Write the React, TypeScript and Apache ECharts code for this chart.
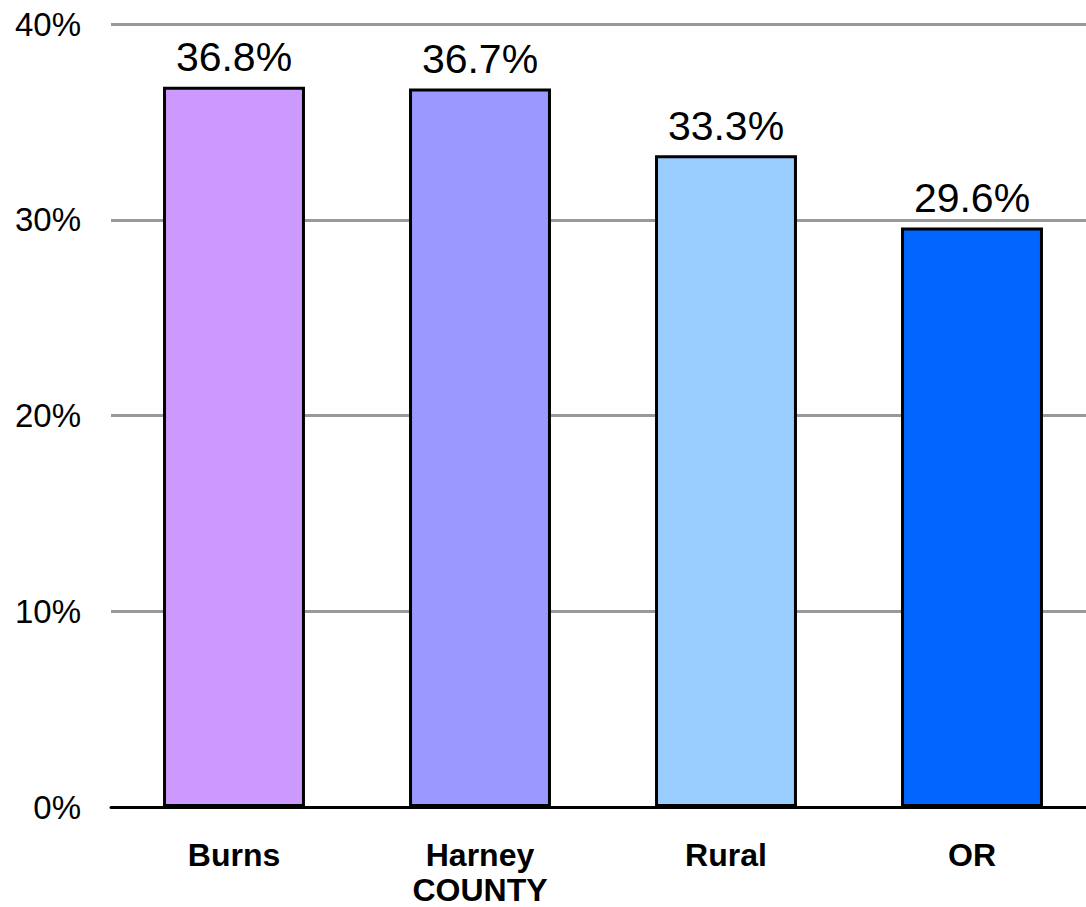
import React, { useEffect, useRef } from "react";
import * as echarts from "echarts";

const categories = ["Burns", "Harney\nCOUNTY", "Rural", "OR"];
const values = [36.8, 36.7, 33.3, 29.6];
const barColors = ["#CC99FF", "#9999FF", "#99CCFF", "#0066FF"];
const yTicks = [0, 10, 20, 30, 40];

export default function App() {
  const ref = useRef<HTMLDivElement>(null);
  useEffect(() => {
    if (!ref.current) return;
    const chart = echarts.init(ref.current, null, { renderer: "svg" });
    const font = "Arial, 'Liberation Sans', sans-serif";
    chart.setOption({
      animation: false,
      backgroundColor: "#ffffff",
      grid: { left: 111, right: 0, top: 24, bottom: 97, containLabel: false },
      xAxis: {
        type: "category",
        data: categories,
        axisLine: { show: true, lineStyle: { color: "#000", width: 3 } },
        axisTick: { show: false },
        axisLabel: {
          color: "#000",
          fontFamily: font,
          fontWeight: "bold",
          fontSize: 32,
          lineHeight: 35,
          margin: 30,
          interval: 0,
        },
      },
      yAxis: {
        type: "value",
        min: yTicks[0],
        max: yTicks[yTicks.length - 1],
        interval: 10,
        axisLine: { show: false },
        axisTick: { show: false },
        splitLine: { show: true, lineStyle: { color: "#999999", width: 3 } },
        axisLabel: {
          color: "#000",
          fontFamily: font,
          fontSize: 33,
          margin: 30,
          formatter: (v: number) => `${v}%`,
        },
      },
      series: [
        {
          type: "bar",
          barWidth: "57.7%",
          data: values.map((v, i) => ({
            value: v,
            itemStyle: { color: barColors[i], borderColor: "#000", borderWidth: 3 },
          })),
          label: {
            show: true,
            position: "top",
            distance: 9,
            color: "#000",
            fontFamily: font,
            fontSize: 41,
            formatter: (p: any) => `${p.value.toFixed(1)}%`,
          },
        },
      ],
    });
    return () => chart.dispose();
  }, []);
  return (
    <div
      style={{ position: "absolute", left: 0, top: 0, width: 1086, height: 907, overflow: "hidden" }}
    >
      <div ref={ref} style={{ width: 1095, height: 907 }} />
    </div>
  );
}
